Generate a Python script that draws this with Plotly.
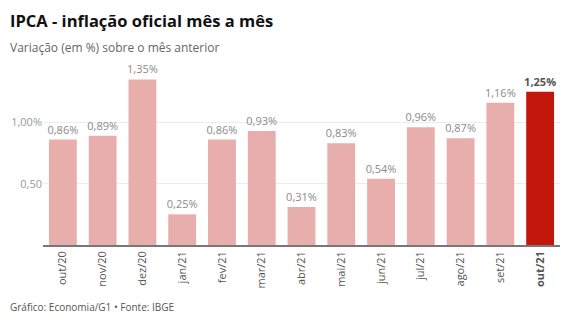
import plotly.graph_objects as go

meses = ["out/20", "nov/20", "dez/20", "jan/21", "fev/21", "mar/21", "abr/21",
         "mai/21", "jun/21", "jul/21", "ago/21", "set/21", "out/21"]
variacao = [0.86, 0.89, 1.35, 0.25, 0.86, 0.93, 0.31, 0.83, 0.54, 0.96, 0.87, 1.16, 1.25]
y_ticks = [0.5, 1.0]
y_tick_labels = ["0,50", "1,00%"]

FONT = "Open Sans"
cor_base = "#e8aeab"
cor_destaque = "#c4170c"
n = len(meses)
cores = [cor_base] * (n - 1) + [cor_destaque]

rotulos = [f"{v:.2f}%".replace(".", ",") for v in variacao]
rotulos[-1] = f"<b>{rotulos[-1]}</b>"
cores_rotulo = ["#8a8a8a"] * (n - 1) + ["#555555"]
ticks_x = meses[:-1] + [f"<b>{meses[-1]}</b>"]

ML, MR, MT, MB = 43, 10, 61, 80
W, H = 570, 325

fig = go.Figure(go.Bar(
    x=list(range(n)), y=variacao,
    marker=dict(color=cores, line=dict(width=0)),
    text=rotulos, textposition="outside", cliponaxis=False,
    constraintext="none",
    textfont=dict(family=FONT, size=11, color=cores_rotulo),
    hoverinfo="skip",
))

fig.update_layout(
    width=W, height=H,
    margin=dict(l=ML, r=MR, t=MT, b=MB),
    paper_bgcolor="white", plot_bgcolor="white",
    bargap=0.3, showlegend=False,
    font=dict(family=FONT, color="#555"),
    xaxis=dict(
        range=[-0.5, n - 0.5], tickvals=list(range(n)), ticktext=ticks_x,
        tickangle=-90, showgrid=False, ticks="",
        tickfont=dict(family=FONT, size=11, color="#555"),
        showline=True, linecolor="#777", linewidth=1.5,
    ),
    yaxis=dict(
        range=[0, 1.5], tickvals=y_ticks, ticktext=y_tick_labels,
        showgrid=True, gridcolor="#ececec", gridwidth=1,
        zeroline=False, ticks="",
        tickfont=dict(family=FONT, size=11, color="#9a9a9a"),
    ),
)

# títulos e rodapé posicionados em pixels
def px_x(px):
    return (px - ML) / (W - ML - MR)

def px_y(py):
    return (H - MB - py) / (H - MT - MB)

fig.add_annotation(text="<b>IPCA - inflação oficial mês a mês</b>", x=px_x(8), y=px_y(20),
                   xref="paper", yref="paper", xanchor="left", yanchor="middle",
                   showarrow=False, font=dict(family=FONT, size=16.5, color="#111"))
fig.add_annotation(text="Variação (em %) sobre o mês anterior", x=px_x(8), y=px_y(47),
                   xref="paper", yref="paper", xanchor="left", yanchor="middle",
                   showarrow=False, font=dict(family=FONT, size=12, color="#666"))
fig.add_annotation(text="Gráfico: Economia/G1 • Fonte: IBGE", x=px_x(8), y=px_y(307),
                   xref="paper", yref="paper", xanchor="left", yanchor="middle",
                   showarrow=False, font=dict(family=FONT, size=10, color="#555"))

fig.write_html("out.html")
